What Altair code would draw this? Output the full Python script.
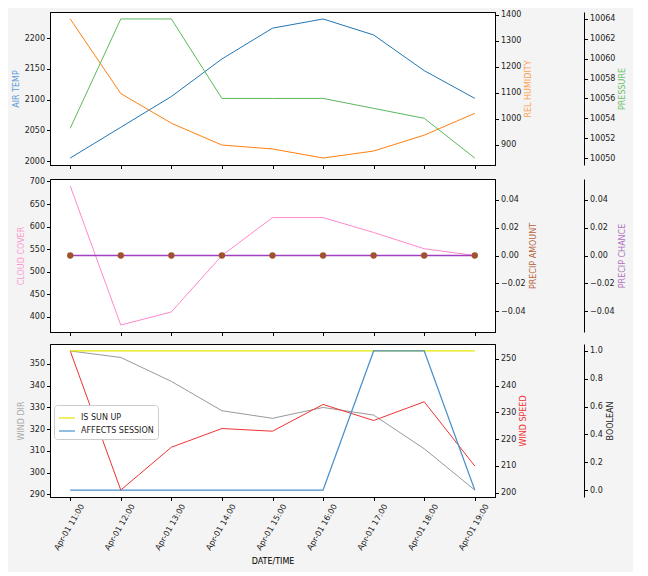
import altair as alt
import pandas as pd

# ---------------- data ----------------
times = ["2023-04-01T11:00:00", "2023-04-01T12:00:00", "2023-04-01T13:00:00",
         "2023-04-01T14:00:00", "2023-04-01T15:00:00", "2023-04-01T16:00:00",
         "2023-04-01T17:00:00", "2023-04-01T18:00:00", "2023-04-01T19:00:00"]
air_temp = [2005, 2055, 2105, 2166, 2216, 2231, 2205, 2147, 2102]
rel_humidity = [1384, 1097, 983, 899, 884, 849, 876, 937, 1021]
pressure = [10053, 10064, 10064, 10056, 10056, 10056, 10055, 10054, 10050]
cloud_cover = [690, 382, 411, 536, 620, 620, 587, 551, 536]
precip_amount = [0, 0, 0, 0, 0, 0, 0, 0, 0]
precip_chance = [0, 0, 0, 0, 0, 0, 0, 0, 0]
wind_dir = [356, 353, 342, 328.5, 325, 330, 326.5, 311, 292]
wind_speed = [253, 201, 217, 224, 223, 233, 227, 234, 210]
is_sun_up = [1, 1, 1, 1, 1, 1, 1, 1, 1]
affects_session = [0, 0, 0, 0, 0, 0, 1, 1, 0]

# tick labels
air_ticks = [2000, 2050, 2100, 2150, 2200]
hum_ticks = [900, 1000, 1100, 1200, 1300, 1400]
pres_ticks = [10050, 10052, 10054, 10056, 10058, 10060, 10062, 10064]
cloud_ticks = [400, 450, 500, 550, 600, 650, 700]
precip_ticks = [-0.04, -0.02, 0.0, 0.02, 0.04]
wdir_ticks = [290, 300, 310, 320, 330, 340, 350]
wspd_ticks = [200, 210, 220, 230, 240, 250]
bool_ticks = [0.0, 0.2, 0.4, 0.6, 0.8, 1.0]
hour_ticks = [11, 12, 13, 14, 15, 16, 17, 18, 19]

df = pd.DataFrame({
    "time": times,
    "AIR TEMP": air_temp,
    "REL HUMIDITY": rel_humidity,
    "PRESSURE": pressure,
    "CLOUD COVER": cloud_cover,
    "PRECIP AMOUNT": precip_amount,
    "PRECIP CHANCE": precip_chance,
    "WIND DIR": wind_dir,
    "WIND SPEED": wind_speed,
    "IS SUN UP": is_sun_up,
    "AFFECTS SESSION": affects_session,
})

W, H = 445, 153
FONT = "DejaVu Sans"
OFF = 89


def mdom(vals):
    lo, hi = min(vals), max(vals)
    if hi == lo:
        lo, hi = lo - 0.05, hi + 0.05
    m = (hi - lo) * 0.05
    return [lo - m, hi + m]


x_dom = [alt.DateTime(year=2023, month=4, date=1, hours=10, minutes=36),
         alt.DateTime(year=2023, month=4, date=1, hours=19, minutes=24)]
x_vals = [alt.DateTime(year=2023, month=4, date=1, hours=h) for h in hour_ticks]


def xenc(show):
    if show:
        ax = alt.Axis(values=x_vals, format="%b-%d %H:%M", title="DATE/TIME",
                      labelAngle=300, labelAlign="right", labelBaseline="middle",
                      labelOverlap=False, labelPadding=4, labelOffset=12,
                      titlePadding=6)
    else:
        ax = alt.Axis(values=x_vals, labels=False, title=None)
    return alt.X("time:T", scale=alt.Scale(domain=x_dom), axis=ax)


def yenc(field, title, tcolor, orient, offset, ticks, fmt, dom):
    extra = {}
    if orient == "right":
        extra["titleBaseline"] = "top"
    return alt.Y(f"{field}:Q",
                 scale=alt.Scale(domain=dom, nice=False, zero=False),
                 axis=alt.Axis(title=title, titleColor=tcolor, orient=orient,
                               offset=offset, values=ticks, format=fmt,
                               titleAngle=270, titlePadding=4, **extra))


base = alt.Chart(df)

# ---- panel 1 ----
p1 = alt.layer(
    base.mark_line(color="#1f77b4", strokeWidth=1).encode(
        x=xenc(False),
        y=yenc("AIR TEMP", "AIR TEMP", "#5b9bd5", "left", 0, air_ticks, "d", mdom(air_temp))),
    base.mark_line(color="#ff7f0e", strokeWidth=1).encode(
        x=xenc(False),
        y=yenc("REL HUMIDITY", "REL HUMIDITY", "#ffa050", "right", 0, hum_ticks, "d", mdom(rel_humidity))),
    base.mark_line(color="#5cb85c", strokeWidth=1).encode(
        x=xenc(False),
        y=yenc("PRESSURE", "PRESSURE", "#6cc06c", "right", OFF, pres_ticks, "d", mdom(pressure))),
).resolve_scale(y="independent").properties(width=W, height=H)

# ---- panel 2 ----
p2 = alt.layer(
    base.mark_line(color="#ff88cc", strokeWidth=1).encode(
        x=xenc(False),
        y=yenc("CLOUD COVER", "CLOUD COVER", "#ff99d0", "left", 0, cloud_ticks, "d", mdom(cloud_cover))),
    base.mark_line(color="#a040c0", strokeWidth=1.4).encode(
        x=xenc(False),
        y=yenc("PRECIP CHANCE", "PRECIP CHANCE", "#b070c0", "right", OFF, precip_ticks, ".2f", mdom(precip_chance))),
    base.mark_circle(color="#a0522d", size=40, opacity=1).encode(
        x=xenc(False),
        y=yenc("PRECIP AMOUNT", "PRECIP AMOUNT", "#b5643c", "right", 0, precip_ticks, ".2f", mdom(precip_amount))),
).resolve_scale(y="independent").properties(width=W, height=H)

# ---- panel 3 ----
bool_layer = base.transform_fold(
    ["IS SUN UP", "AFFECTS SESSION"], as_=["series", "value"]
).mark_line(strokeWidth=1.2).encode(
    x=xenc(True),
    y=alt.Y("value:Q", scale=alt.Scale(domain=mdom([0, 1]), nice=False, zero=False),
            axis=alt.Axis(title="BOOLEAN", titleColor="#222222", orient="right",
                          offset=OFF, values=bool_ticks, format=".1f",
                          titleAngle=270, titleBaseline="top", titlePadding=4)),
    color=alt.Color("series:N",
                    scale=alt.Scale(domain=["IS SUN UP", "AFFECTS SESSION"],
                                    range=["#e5e500", "#4a8fcc"]),
                    legend=alt.Legend(title=None, orient="none", legendX=4, legendY=61,
                                      symbolType="stroke", symbolSize=256,
                                      symbolStrokeWidth=1.2,
                                      fillColor="white", strokeColor="#cccccc",
                                      cornerRadius=3, padding=4, rowPadding=-4,
                                      labelFont=FONT, labelFontSize=8, labelOffset=5,
                                      labelColor="#222222")),
)

p3 = alt.layer(
    base.mark_line(color="#999999", strokeWidth=1).encode(
        x=xenc(True),
        y=yenc("WIND DIR", "WIND DIR", "#aaaaaa", "left", 0, wdir_ticks, "d", mdom(wind_dir))),
    base.mark_line(color="#ee3333", strokeWidth=1).encode(
        x=xenc(True),
        y=yenc("WIND SPEED", "WIND SPEED", "#ee3333", "right", 0, wspd_ticks, "d", mdom(wind_speed))),
    bool_layer,
).resolve_scale(y="independent").properties(width=W, height=H)

chart = alt.vconcat(p1, p2, p3, spacing=6).resolve_scale(color="independent").configure(
    background="#f4f4f4",
    padding={"left": 3, "top": 2, "right": 5, "bottom": 5},
    font=FONT,
).configure_view(
    stroke="black", strokeWidth=1, fill="white"
).configure_axis(
    labelFont=FONT, titleFont=FONT, labelFontSize=8, titleFontSize=8,
    titleFontWeight="normal", labelColor="#222222", tickColor="black",
    domainColor="black", grid=False, tickSize=3.5, labelPadding=2,
)

chart.save("out.html", embed_options={"renderer": "svg", "actions": False})
